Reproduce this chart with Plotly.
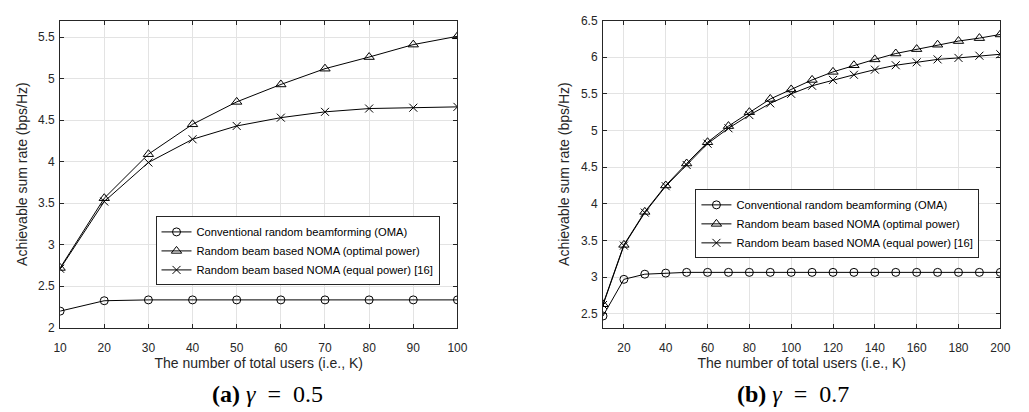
import plotly.graph_objects as go

# ---- data: (a) gamma = 0.5 ----
users_a = [10, 20, 30, 40, 50, 60, 70, 80, 90, 100]
oma_a = [2.20, 2.325, 2.335, 2.335, 2.335, 2.335, 2.335, 2.335, 2.335, 2.335]
noma_opt_a = [2.72, 3.56, 4.09, 4.45, 4.72, 4.93, 5.12, 5.26, 5.41, 5.51]
noma_eq_a = [2.71, 3.52, 3.99, 4.27, 4.43, 4.53, 4.60, 4.64, 4.65, 4.66]

# ---- data: (b) gamma = 0.7 ----
users_b = [10, 20, 30, 40, 50, 60, 70, 80, 90, 100,
           110, 120, 130, 140, 150, 160, 170, 180, 190, 200]
oma_b = [2.47, 2.97, 3.04, 3.055, 3.065, 3.065, 3.065, 3.065, 3.065, 3.065,
         3.065, 3.065, 3.065, 3.065, 3.065, 3.065, 3.065, 3.065, 3.065, 3.065]
noma_opt_b = [2.63, 3.44, 3.89, 4.25, 4.55, 4.84, 5.06, 5.25, 5.43, 5.56,
              5.69, 5.80, 5.89, 5.97, 6.05, 6.11, 6.17, 6.22, 6.26, 6.31]
noma_eq_b = [2.62, 3.43, 3.88, 4.24, 4.53, 4.82, 5.03, 5.21, 5.37, 5.50,
             5.61, 5.69, 5.76, 5.83, 5.89, 5.93, 5.97, 5.99, 6.02, 6.04]

names = ["Conventional random beamforming (OMA)",
         "Random beam based NOMA (optimal power)",
         "Random beam based NOMA (equal power) [16]"]
symbols = ["circle-open", "triangle-up-open", "x-thin-open"]
sizes = [8, 9, 8]

x_ticks_a = [10, 20, 30, 40, 50, 60, 70, 80, 90, 100]
x_ticks_b = [20, 40, 60, 80, 100, 120, 140, 160, 180, 200]
y_ticks_a = [2, 2.5, 3, 3.5, 4, 4.5, 5, 5.5]
y_ticks_b = [2.5, 3, 3.5, 4, 4.5, 5, 5.5, 6, 6.5]

captions = ["<b>(a)</b> <i>γ</i>\u2002=\u20020.5", "<b>(b)</b> <i>γ</i>\u2002=\u20020.7"]

fig = go.Figure()

for series, xs, xa, ya, lg in [
    ((oma_a, noma_opt_a, noma_eq_a), users_a, "x", "y", "legend"),
    ((oma_b, noma_opt_b, noma_eq_b), users_b, "x2", "y2", "legend2"),
]:
    for ys, name, sym, sz in zip(series, names, symbols, sizes):
        fig.add_trace(go.Scatter(
            x=xs, y=ys, name=name, mode="lines+markers",
            line=dict(color="black", width=1),
            marker=dict(symbol=sym, size=sz, color="black",
                        line=dict(color="black", width=1)),
            xaxis=xa, yaxis=ya, legend=lg,
        ))

ink = "#262626"
grid = "#e3e3e3"
sans = "Liberation Sans, Arial, sans-serif"
tick_font = dict(family=sans, size=12, color=ink)
title_font = dict(family=sans, size=14, color=ink)


def common(domain, rng, ticks, anchor):
    return dict(domain=domain, range=rng, tickvals=ticks, anchor=anchor,
                showline=True, linecolor=ink, linewidth=1, mirror="ticks",
                ticks="inside", ticklen=4, tickcolor=ink,
                showgrid=True, gridcolor=grid, gridwidth=1, zeroline=False,
                tickfont=tick_font)


def xaxis(domain, rng, ticks, anchor):
    ax = common(domain, rng, ticks, anchor)
    ax.update(ticklabelstandoff=9,
              title=dict(text="The number of total users (i.e., K)",
                         font=title_font, standoff=3))
    return ax


def yaxis(domain, rng, ticks, anchor):
    ax = common(domain, rng, ticks, anchor)
    ax.update(ticklabelstandoff=2,
              title=dict(text="Achievable sum rate (bps/Hz)",
                         font=title_font, standoff=7))
    return ax


ydom = [1 - 332 / 412, 1 - 14 / 412]
legend_style = dict(bgcolor="white", bordercolor=ink, borderwidth=1,
                    font=dict(family=sans, size=11.2, color="black"),
                    xanchor="left", yanchor="middle", tracegroupgap=0,
                    itemwidth=30)
caption_font = dict(family="Liberation Serif, serif", size=24, color="black")

fig.update_layout(
    width=1029, height=412,
    margin=dict(l=0, r=0, t=0, b=0),
    paper_bgcolor="white", plot_bgcolor="white",
    showlegend=True,
    xaxis=xaxis([54 / 1029, 458 / 1029], [10, 100], x_ticks_a, "y"),
    yaxis=yaxis(ydom, [2, 5.7], y_ticks_a, "x"),
    xaxis2=xaxis([606 / 1029, 1010 / 1029], [10, 200], x_ticks_b, "y2"),
    yaxis2=yaxis(ydom, [2.31, 6.5], y_ticks_b, "x2"),
    legend=dict(x=151 / 1029, y=1 - 252.5 / 412, **legend_style),
    legend2=dict(x=700 / 1029, y=1 - 224.5 / 412, **legend_style),
    annotations=[
        dict(text=captions[0], x=265 / 1029, y=1 - 401 / 412,
             xref="paper", yref="paper", showarrow=False,
             xanchor="center", yanchor="middle", font=caption_font),
        dict(text=captions[1], x=799 / 1029, y=1 - 401 / 412,
             xref="paper", yref="paper", showarrow=False,
             xanchor="center", yanchor="middle", font=caption_font),
    ],
)

fig.write_html("out.html")
